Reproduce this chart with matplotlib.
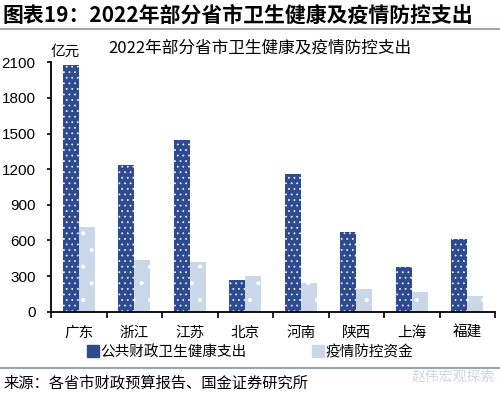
import numpy as np
import matplotlib.pyplot as plt
from matplotlib.lines import Line2D

plt.rcParams['font.family'] = ['Noto Sans CJK SC', 'DejaVu Sans']
plt.rcParams['hatch.color'] = 'white'
plt.rcParams['hatch.linewidth'] = 0.5

# Daten
provinces = ['广东', '浙江', '江苏', '北京', '河南', '陕西', '上海', '福建']
health_spend = [2075, 1235, 1443, 264, 1159, 668, 379, 609]
covid_funds = [710, 435, 421, 298, 239, 191, 166, 132]
yticks = [0, 300, 600, 900, 1200, 1500, 1800, 2100]

c_dark = '#2E4B8F'
c_light = '#CAD7E8'

fig = plt.figure(figsize=(5, 3.96), dpi=100)
ax = fig.add_axes([0.102, 0.2129, 0.888, 0.6298])

x = np.arange(len(provinces))
w = 0.29
ax.bar(x - w/2, health_spend, w, color=c_dark, hatch='...', edgecolor='white', linewidth=0,
       label='公共财政卫生健康支出')
ax.bar(x + w/2, covid_funds, w, color=c_light, hatch='.', edgecolor='white', linewidth=0,
       label='疫情防控资金')

ax.set_xlim(-0.5, len(provinces) - 0.5)
ax.set_ylim(0, 2100)
ax.set_yticks(yticks)
ax.set_yticklabels([str(v) for v in yticks], fontsize=11, family='Liberation Sans')
ax.set_xticks(x)
ax.set_xticklabels(provinces, fontsize=10.5)
ax.set_xticks(np.arange(len(provinces) + 1) - 0.5, minor=True)
ax.tick_params(axis='x', which='major', length=0, pad=10)
ax.tick_params(axis='x', which='minor', length=4, width=1.2)
ax.tick_params(axis='y', length=3, width=1.2, pad=8)
for s in ['top', 'right']:
    ax.spines[s].set_visible(False)
ax.spines['left'].set_linewidth(1.3)
ax.spines['bottom'].set_linewidth(1.3)

ax.text(0.0, 1.015, '亿元', transform=ax.transAxes, fontsize=10.5, ha='left', va='bottom')

handles = [Line2D([], [], marker='s', ls='', color=c_dark, markersize=8),
           Line2D([], [], marker='s', ls='', color=c_light, markersize=8)]
fig.legend(handles, ['公共财政卫生健康支出', '疫情防控资金'], loc='center',
           bbox_to_anchor=(0.5, 0.111), ncol=2, frameon=False, fontsize=10.5,
           handletextpad=0.1, columnspacing=4.5, handlelength=0.8)

# Titel
fig.text(0.006, 0.962, '图表19：2022年部分省市卫生健康及疫情防控支出', fontsize=15,
         fontweight='bold', style='italic', ha='left', va='center')
fig.add_artist(Line2D([0, 1], [0.927, 0.927], color='#9AA5B5', lw=1.5))
fig.text(0.52, 0.878, '2022年部分省市卫生健康及疫情防控支出', fontsize=12,
         ha='center', va='center')
fig.add_artist(Line2D([0, 1], [0.071, 0.071], color='#9AA5B5', lw=1.5))
fig.text(0.006, 0.033, '来源：各省市财政预算报告、国金证券研究所', fontsize=11,
         ha='left', va='center')
fig.text(0.99, 0.05, '赵伟宏观探索', fontsize=10, color='#D5D5D5', ha='right', va='center')

plt.savefig('out.png', dpi=100)
